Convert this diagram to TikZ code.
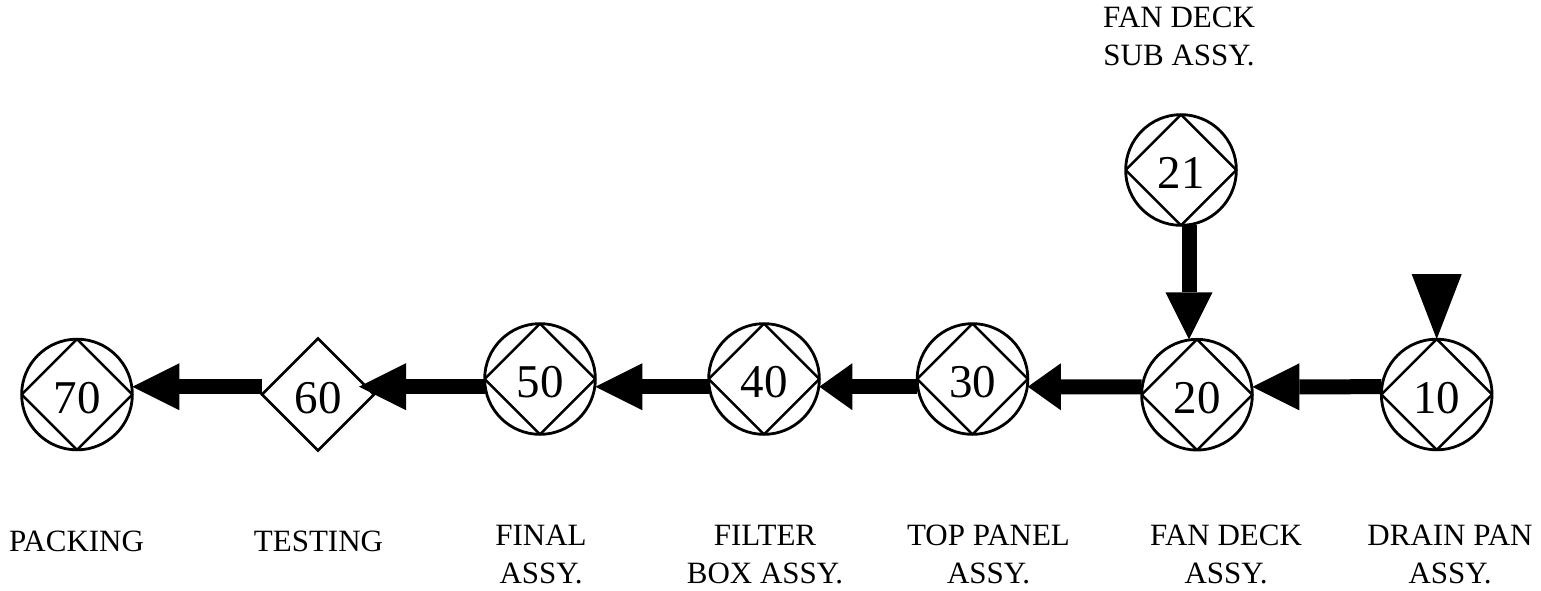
\documentclass[tikz,border=0pt]{standalone}
\usepackage{fontspec}
\setmainfont{Liberation Serif}
\usetikzlibrary{shapes.geometric,arrows.meta}
\newcommand\numfont{\fontsize{47}{47}\selectfont}
\newcommand\lblfont{\fontsize{31}{38}\selectfont}
\begin{document}
\begin{tikzpicture}[x=1pt,y=1pt,
  opnode/.style={circle, draw, line width=2.8pt, minimum size=110.7pt, inner sep=0pt, outer sep=0pt,
    font=\numfont, text height=37pt, text depth=0pt,
    path picture={\draw[line width=2.5pt] (path picture bounding box.north) -- (path picture bounding box.east)
      -- (path picture bounding box.south) -- (path picture bounding box.west) -- cycle;}},
  inspnode/.style={diamond, draw, line width=2.8pt, minimum width=112pt, minimum height=112pt,
    inner sep=0pt, outer sep=0pt, font=\numfont, text height=37pt, text depth=0pt},
  lbl/.style={font=\lblfont, align=center, anchor=base, inner sep=0pt},
  flow/.style={line width=15pt, -{Triangle[length=#1,width=47pt,line width=0pt]}},
  flow/.default=47pt,
  feed/.style={line width=0.1pt, draw opacity=0, -{Triangle[length=65pt,width=50pt,line width=0pt]}}]
\useasboundingbox (0,0) rectangle (1541,590);
% operation nodes
\node[opnode] (n70) at (77,195.5) {70};
\node[inspnode] (n60) at (318,195.5) {60};
\node[opnode] (n50) at (540,211) {50};
\node[opnode] (n40) at (764,211) {40};
\node[opnode] (n30) at (972.5,211) {30};
\node[opnode] (n20) at (1197,195.3) {20};
\node[opnode] (n10) at (1436.7,195.5) {10};
\node[opnode] (n21) at (1181,420) {21};
% connectors
\draw[flow] ([yshift=7.8pt]n60.west) -- ([yshift=7.8pt]n70.east);
\draw[flow] ([yshift=-7.7pt]n50.west) -- ([shift={(-15pt,7.8pt)}]n60.east);
\draw[flow] ([yshift=-7.7pt]n40.west) -- ([yshift=-7.7pt]n50.east);
\draw[flow=33pt] ([yshift=-7.7pt]n30.west) -- ([yshift=-7.7pt]n40.east);
\draw[flow=33pt] ([yshift=7.8pt]n20.west) -- ([yshift=-7.7pt]n30.east);
\draw[flow] ([yshift=7.8pt]n10.west) -- ([yshift=7.8pt]n20.east);
\draw[flow] ([xshift=8pt]n21.south) -- ([xshift=-8pt]n20.north);
\coordinate (in10) at (1436.7,317);
\draw[feed] (in10) -- (n10.north);
% labels (anchor at the baseline of the last line)
\node[lbl] (l70) at (76.5,39) {PACKING};
\node[lbl] (l60) at (318.5,39) {TESTING};
\node[lbl] (l50) at (541,7) {FINAL\\ASSY.};
\node[lbl] (l40) at (765,7) {FILTER\\BOX ASSY.};
\node[lbl] (l30) at (988.5,7) {TOP PANEL\\ASSY.};
\node[lbl] (l20) at (1226,7) {FAN DECK\\ASSY.};
\node[lbl] (l10) at (1450,7) {DRAIN PAN\\ASSY.};
\node[lbl] (l21) at (1179,524) {FAN DECK\\SUB ASSY.};
\end{tikzpicture}
\end{document}
